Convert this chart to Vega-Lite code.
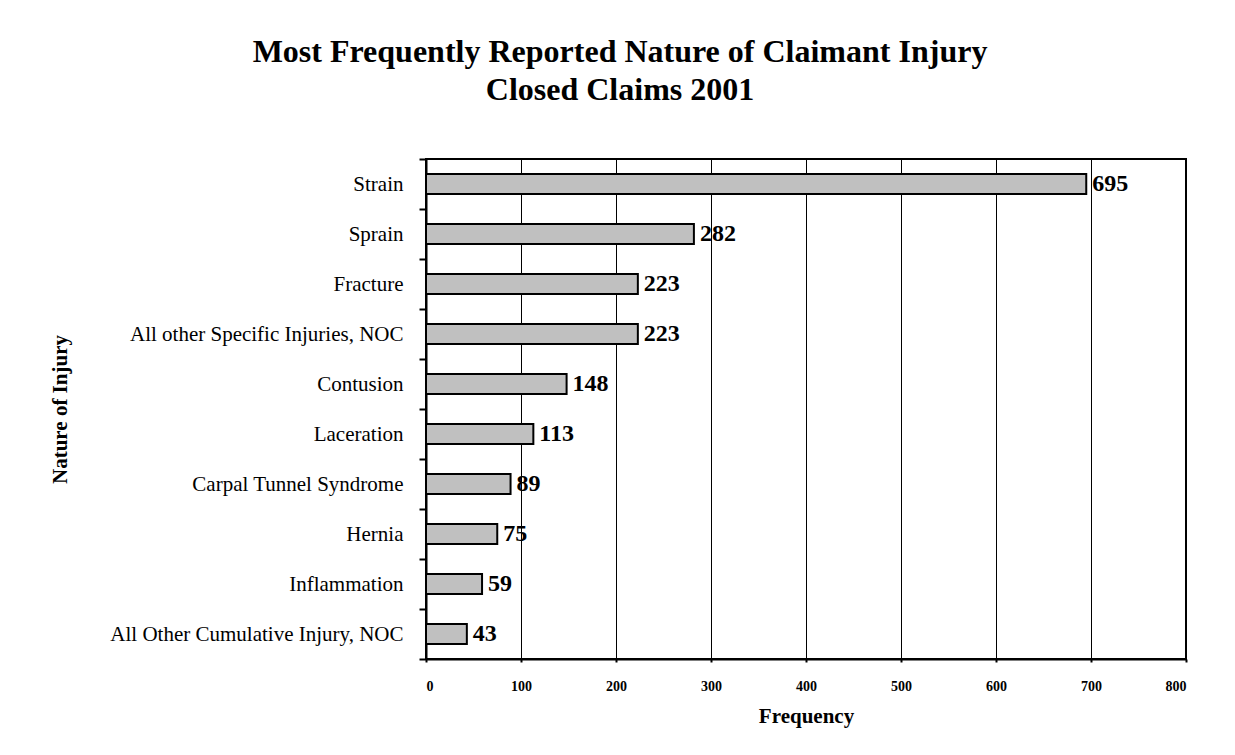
{
  "$schema": "https://vega.github.io/schema/vega-lite/v6.json",
  "width": 760,
  "height": 500,
  "autosize": "none",
  "padding": {"left": 426, "top": 159, "right": 49, "bottom": 96},
  "background": "white",
  "title": {
    "text": ["Most Frequently Reported Nature of Claimant Injury", "Closed Claims 2001"],
    "font": "Liberation Serif",
    "fontSize": 32,
    "fontWeight": "bold",
    "color": "black",
    "anchor": "middle",
    "frame": "group",
    "dx": -186,
    "lineHeight": 38,
    "offset": 41
  },
  "data": {
    "values": [
      {"injury": "Strain", "count": 695},
      {"injury": "Sprain", "count": 282},
      {"injury": "Fracture", "count": 223},
      {"injury": "All other Specific Injuries, NOC", "count": 223},
      {"injury": "Contusion", "count": 148},
      {"injury": "Laceration", "count": 113},
      {"injury": "Carpal Tunnel Syndrome", "count": 89},
      {"injury": "Hernia", "count": 75},
      {"injury": "Inflammation", "count": 59},
      {"injury": "All Other Cumulative Injury, NOC", "count": 43}
    ]
  },
  "encoding": {
    "y": {
      "field": "injury",
      "type": "nominal",
      "sort": null,
      "title": "Nature of Injury",
      "scale": {"paddingInner": 0, "paddingOuter": 0},
      "axis": {
        "tickBand": "extent",
        "tickSize": 7,
        "tickWidth": 2,
        "tickColor": "black",
        "domainColor": "black",
        "domainWidth": 2,
        "labelFont": "Liberation Serif",
        "labelFontSize": 21,
        "labelColor": "black",
        "labelPadding": 16,
        "labelLimit": 500,
        "titleFont": "Liberation Serif",
        "titleFontSize": 21,
        "titleFontWeight": "bold",
        "titleColor": "black",
        "titlePadding": 156
      }
    },
    "x": {
      "field": "count",
      "type": "quantitative",
      "title": "Frequency",
      "scale": {"domain": [0, 800], "nice": false},
      "axis": {
        "values": [0, 100, 200, 300, 400, 500, 600, 700, 800],
        "grid": true,
        "gridColor": "black",
        "gridOpacity": 1,
        "gridWidth": 1,
        "tickSize": 3,
        "tickWidth": 2,
        "tickColor": "black",
        "domainColor": "black",
        "domainWidth": 2,
        "labelFont": "Liberation Serif",
        "labelFontSize": 14,
        "labelFontWeight": "bold",
        "labelColor": "black",
        "labelPadding": 17,
        "titleFont": "Liberation Serif",
        "titleFontSize": 21,
        "titleFontWeight": "bold",
        "titleColor": "black",
        "titlePadding": 12
      }
    }
  },
  "layer": [
    {
      "mark": {
        "type": "bar",
        "height": {"band": 0.4},
        "fill": "#c0c0c0",
        "stroke": "black",
        "strokeWidth": 2
      }
    },
    {
      "mark": {
        "type": "text",
        "align": "left",
        "baseline": "middle",
        "dx": 6,
        "font": "Liberation Serif",
        "fontSize": 24,
        "fontWeight": "bold",
        "fill": "black"
      },
      "encoding": {"text": {"field": "count", "type": "quantitative"}}
    }
  ],
  "config": {
    "view": {"stroke": "black", "strokeWidth": 2}
  }
}
